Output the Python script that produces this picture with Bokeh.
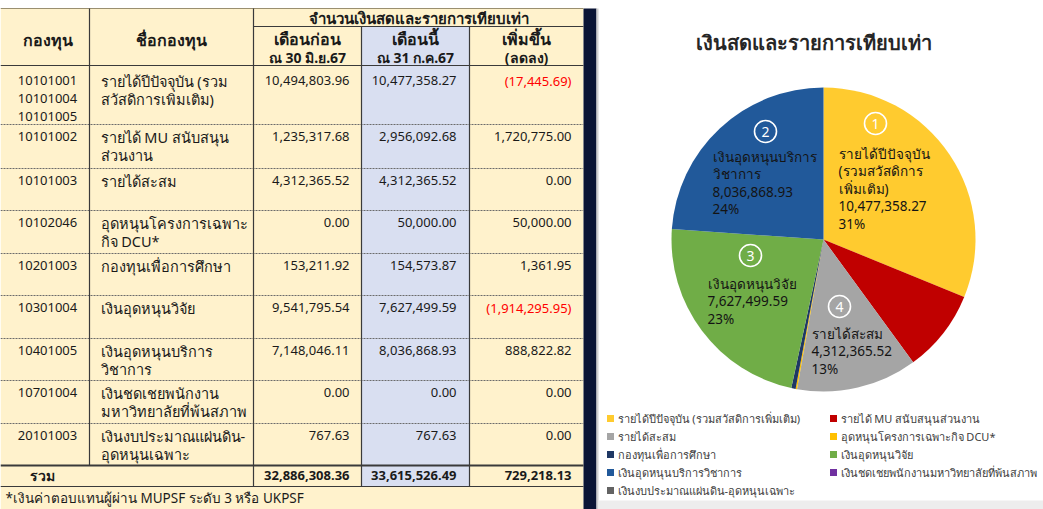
import numpy as np
from bokeh.plotting import figure
from bokeh.models import Range1d
from bokeh.core.properties import value
from bokeh.embed import file_html
from bokeh.resources import INLINE

# ---------------- data ----------------
fund_codes = [["10101001", "10101004", "10101005"], ["10101002"], ["10101003"], ["10102046"],
              ["10201003"], ["10301004"], ["10401005"], ["10701004"], ["20101003"]]
fund_names = [["รายได้ปีปัจจุบัน (รวม", "สวัสดิการเพิ่มเติม)"],
              ["รายได้ MU สนับสนุน", "ส่วนงาน"],
              ["รายได้สะสม"],
              ["อุดหนุนโครงการเฉพาะ", "กิจ DCU*"],
              ["กองทุนเพื่อการศึกษา"],
              ["เงินอุดหนุนวิจัย"],
              ["เงินอุดหนุนบริการ", "วิชาการ"],
              ["เงินชดเชยพนักงาน", "มหาวิทยาลัยที่พ้นสภาพ"],
              ["เงินงบประมาณแผ่นดิน-", "อุดหนุนเฉพาะ"]]
prev_month = [10494803.96, 1235317.68, 4312365.52, 0.00, 153211.92, 9541795.54, 7148046.11, 0.00, 767.63]
this_month = [10477358.27, 2956092.68, 4312365.52, 50000.00, 154573.87, 7627499.59, 8036868.93, 0.00, 767.63]
change = [-17445.69, 1720775.00, 0.00, 50000.00, 1361.95, -1914295.95, 888822.82, 0.00, 0.00]

legend_names = ["รายได้ปีปัจจุบัน (รวมสวัสดิการเพิ่มเติม)", "รายได้ MU สนับสนุนส่วนงาน", "รายได้สะสม",
                "อุดหนุนโครงการเฉพาะกิจ DCU*", "กองทุนเพื่อการศึกษา", "เงินอุดหนุนวิจัย",
                "เงินอุดหนุนบริการวิชาการ", "เงินชดเชยพนักงานมหาวิทยาลัยที่พ้นสภาพ",
                "เงินงบประมาณแผ่นดิน-อุดหนุนเฉพาะ"]
slice_colors = ["#FFCB2F", "#C00000", "#A5A5A5", "#FFC000", "#1F3864", "#70AD47", "#21599A", "#7030A0", "#636363"]
slice_label_lines = {0: ["รายได้ปีปัจจุบัน", "(รวมสวัสดิการ", "เพิ่มเติม)"],
                     6: ["เงินอุดหนุนบริการ", "วิชาการ"],
                     5: ["เงินอุดหนุนวิจัย"],
                     2: ["รายได้สะสม"]}
slice_numbers = {0: "1", 6: "2", 5: "3", 2: "4"}

title = "เงินสดและรายการเทียบเท่า"
header_top = "จำนวนเงินสดและรายการเทียบเท่า"
footnote = "*เงินค่าตอบแทนผู้ผ่าน MUPSF ระดับ 3 หรือ UKPSF"

# ---------------- figure ----------------
W, H = 1043, 509
p = figure(width=W, height=H, x_range=Range1d(0, W), y_range=Range1d(H, 0),
           output_backend="svg", toolbar_location=None, min_border=0,
           x_axis_type=None, y_axis_type=None)
p.grid.visible = False
p.outline_line_color = None
p.background_fill_color = "white"
p.border_fill_color = "white"

FONT = "Noto Sans"
DARK = "#1a1a1a"


def txt(x, y, s, size=13, align="left", color=DARK, bold=False, font=FONT):
    p.text(x=[x], y=[y], text=[s], text_font=value(font), text_font_size=f"{size}px",
           text_align=align, text_baseline="middle", text_color=color,
           text_font_style="bold" if bold else "normal")


def fmt(v):
    s = f"{abs(v):,.2f}"
    return f"({s})" if v < 0 else s


# ---------------- table ----------------
col_edges = [0, 89, 253, 361, 469, 583]
row_tops = [65, 124, 168, 210, 253, 295, 338, 380, 423, 465]
total_bottom = 486

p.quad(left=0, right=583, top=8, bottom=509, fill_color="#FFF2CC", line_color=None)
p.quad(left=361, right=469, top=26, bottom=total_bottom, fill_color="#D9DFF1", line_color=None)
p.quad(left=583, right=596, top=8, bottom=509, fill_color="#0B1535", line_color=None)
p.quad(left=596, right=598, top=8, bottom=509, fill_color="#D0D0D0", line_color=None)
p.quad(left=598, right=1043, top=500, bottom=509, fill_color="#EDEDED", line_color=None)

LINE = "#3a3a3a"
for t in row_tops[1:-1]:
    p.segment(x0=0, y0=t, x1=583, y1=t, line_color="#6b6b6b", line_width=1.2, line_dash="2 1")
p.segment(x0=0, y0=8, x1=583, y1=8, line_color="#9a8f70", line_width=1)
p.segment(x0=253, y0=26, x1=583, y1=26, line_color=LINE, line_width=1.2)
p.segment(x0=0, y0=65, x1=583, y1=65, line_color=LINE, line_width=1.2)
p.segment(x0=0, y0=465, x1=583, y1=465, line_color=LINE, line_width=2)
p.segment(x0=0, y0=total_bottom, x1=583, y1=total_bottom, line_color=LINE, line_width=1.2)
p.segment(x0=89, y0=8, x1=89, y1=465, line_color=LINE, line_width=1.2)
p.segment(x0=253, y0=8, x1=253, y1=total_bottom, line_color=LINE, line_width=1.2)
for xx in (361, 469):
    p.segment(x0=xx, y0=26, x1=xx, y1=total_bottom, line_color=LINE, line_width=1.2)

# headers
txt(47, 39, "กองทุน", size=16, bold=True, align="center")
txt(171, 39, "ชื่อกองทุน", size=16, bold=True, align="center")
txt(418, 17, header_top, size=15, bold=True, align="center")
sub_heads = [("เดือนก่อน", "ณ 30 มิ.ย.67"), ("เดือนนี้", "ณ 31 ก.ค.67"), ("เพิ่มขึ้น", "(ลดลง)")]
for i, (a, b) in enumerate(sub_heads):
    cx = (col_edges[2 + i] + col_edges[3 + i]) / 2
    txt(cx, 38, a, size=16, bold=True, align="center")
    txt(cx, 57, b, size=14, bold=True, align="center")

# rows
for i in range(len(fund_codes)):
    y0 = row_tops[i] + (15 if i == 0 else 12)
    for j, c in enumerate(fund_codes[i]):
        txt(47, y0 + 18 * j, c, align="center")
    for j, n in enumerate(fund_names[i]):
        txt(100, y0 + 18 * j, n, size=14.5)
    txt(349, y0, fmt(prev_month[i]), align="right")
    txt(456, y0, fmt(this_month[i]), align="right")
    txt(571, y0, fmt(change[i]), align="right", color="#FF0000" if change[i] < 0 else DARK)

# totals
ty = 475
txt(42, ty, "รวม", size=14, bold=True, align="center")
txt(349, ty, fmt(sum(prev_month)), bold=True, align="right")
txt(456, ty, fmt(sum(this_month)), bold=True, align="right")
txt(571, ty, fmt(sum(change)), bold=True, align="right")
txt(5, 497, footnote, size=13.5)

# ---------------- pie ----------------
CX, CY, R = 823, 239, 152
vals = np.array(this_month)
frac = vals / vals.sum()
cum = np.concatenate([[0], np.cumsum(frac)])
starts = np.pi / 2 - 2 * np.pi * cum[:-1]
ends = np.pi / 2 - 2 * np.pi * cum[1:]
keep = vals > 0
p.wedge(x=[CX] * int(keep.sum()), y=[CY] * int(keep.sum()), radius=R,
        start_angle=list(ends[keep]), end_angle=list(starts[keep]),
        direction="anticlock", fill_color=[c for c, k in zip(slice_colors, keep) if k], line_color=None)

txt(813, 42, title, size=20, bold=True, color="#262626", align="center")

label_pos = {0: (838, 153), 6: (712, 156), 5: (707, 283), 2: (811, 333)}
num_pos = {0: (875, 123), 6: (765, 131), 5: (750, 255), 2: (839, 306)}
for k, lines in slice_label_lines.items():
    lx, ly = label_pos[k]
    allines = lines + [fmt(this_month[k]), f"{round(frac[k] * 100):d}%"]
    for j, s in enumerate(allines):
        txt(lx, ly + 17.5 * j, s, size=13.5, color="#141414")
    nx, ny = num_pos[k]
    p.circle(x=[nx], y=[ny], radius=11, fill_color=None, line_color="white", line_width=1.6)
    txt(nx, ny, slice_numbers[k], size=14, color="white", align="center")

# legend
leg_x = [610, 833]
for i, name in enumerate(legend_names):
    c, r = i % 2, i // 2
    lx, ly = leg_x[c], 418 + 18 * r
    p.rect(x=[lx], y=[ly], width=7, height=7, fill_color=slice_colors[i], line_color=None)
    txt(lx + 7, ly, name, size=11, color="#404040")

open("out.html", "w").write(file_html(p, INLINE))
